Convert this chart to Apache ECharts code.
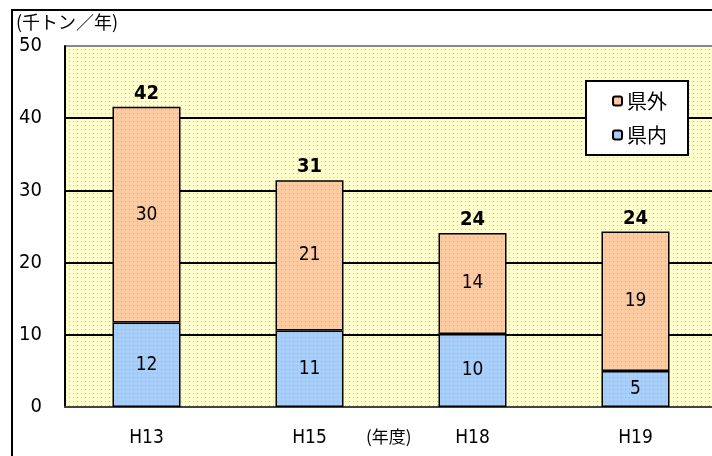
<!DOCTYPE html>
<html>
<head>
<meta charset="utf-8">
<script src="https://cdn.jsdelivr.net/npm/echarts@6/dist/echarts.min.js"></script>
<style>
  html, body { margin: 0; padding: 0; background: #fff; overflow: hidden; }
  /* the plot area runs a little past the right edge of the picture */
  #chart { width: 720px; height: 456px; }
</style>
</head>
<body>
<div id="chart"></div>
<script>
// values (thousand tons / year)
var years = ["H13", "H15", "H18", "H19"];
var inside = [11.7, 10.6, 10.1, 5.0];    // 県内
var outside = [29.9, 20.8, 14.0, 19.3];  // 県外
var yTicks = [0, 10, 20, 30, 40, 50];

var totals = years.map(function (y, i) { return inside[i] + outside[i]; });

// small dotted tiles like the old spreadsheet fill
function dots(bg, dot) {
  var c = document.createElement("canvas");
  c.width = 4;
  c.height = 4;
  var ctx = c.getContext("2d");
  ctx.fillStyle = bg;
  ctx.fillRect(0, 0, 4, 4);
  ctx.fillStyle = dot;
  ctx.fillRect(1, 1, 1, 1);
  return { image: c, repeat: "repeat" };
}

var numFont = '"DejaVu Sans Condensed", "DejaVu Sans", sans-serif';
var jpFont = '"Noto Sans CJK JP", sans-serif';

var chart = echarts.init(document.getElementById("chart"));

chart.setOption({
  animation: false,
  grid: {
    left: 65,
    right: 3,
    top: 46,
    bottom: 49,
    show: true,
    borderWidth: 0,
    backgroundColor: dots("#ffffcc", "#c8c8c0")
  },
  legend: {
    data: ["県外", "県内"],
    orient: "vertical",
    left: 586,
    top: 81,
    backgroundColor: "#fff",
    borderColor: "#000",
    borderWidth: 2,
    borderRadius: 0,
    padding: [10, 21, 10, 26],
    itemGap: 14,
    itemWidth: 9,
    itemHeight: 9,
    textStyle: { fontFamily: jpFont, fontSize: 20, color: "#000" }
  },
  xAxis: {
    type: "category",
    data: years,
    axisLine: { lineStyle: { color: "#444", width: 2 } },
    axisTick: { inside: true, length: 6, lineStyle: { color: "#000", width: 1.5 } },
    axisLabel: { margin: 22, fontFamily: numFont, fontSize: 19, color: "#000" }
  },
  yAxis: {
    type: "value",
    min: 0,
    max: 50,
    interval: 10,
    axisLine: { show: true, lineStyle: { color: "#000", width: 2 } },
    axisTick: { show: false },
    axisLabel: {
      margin: 23,
      fontFamily: numFont,
      fontSize: 20,
      color: "#000",
      formatter: function (v) { return yTicks.indexOf(v) >= 0 ? String(v) : ""; }
    },
    splitLine: {
      lineStyle: {
        color: ["#444", "#000", "#000", "#000", "#000", "#888"],
        width: 2
      }
    }
  },
  series: [
    {
      name: "県内",
      type: "bar",
      stack: "all",
      barWidth: 68,
      data: inside,
      itemStyle: { color: dots("#a8cffa", "#c89bd8"), borderColor: "#000", borderWidth: 1.5 },
      label: {
        show: true,
        position: "inside",
        fontFamily: numFont,
        fontSize: 19,
        color: "#000",
        formatter: function (p) { return Math.round(p.value); }
      }
    },
    {
      name: "県外",
      type: "bar",
      stack: "all",
      data: outside,
      itemStyle: { color: dots("#fdcba2", "#d8a0c0"), borderColor: "#000", borderWidth: 1.5 },
      label: {
        show: true,
        position: "inside",
        fontFamily: numFont,
        fontSize: 19,
        color: "#000",
        formatter: function (p) { return Math.round(p.value); }
      }
    },
    {
      name: "total",
      type: "bar",
      stack: "all",
      data: years.map(function () { return 0; }),
      itemStyle: { color: "transparent" },
      label: {
        show: true,
        position: "top",
        distance: 3,
        fontFamily: numFont,
        fontWeight: "bold",
        fontSize: 20,
        color: "#000",
        formatter: function (p) { return Math.round(totals[p.dataIndex]); }
      }
    }
  ],
  graphic: [
    {
      type: "rect",
      shape: { x: 12, y: 10, width: 720, height: 470 },
      style: { fill: null, stroke: "#000", lineWidth: 2 },
      silent: true,
      z: -1
    },
    {
      type: "text",
      left: 16,
      top: 13,
      style: { text: "(千トン／年)", font: '18px "Noto Sans CJK JP", sans-serif', fill: "#000" }
    },
    {
      type: "text",
      left: 366,
      top: 428,
      style: { text: "(年度)", font: '17px "Noto Sans CJK JP", sans-serif', fill: "#000" }
    }
  ]
});
</script>
</body>
</html>
